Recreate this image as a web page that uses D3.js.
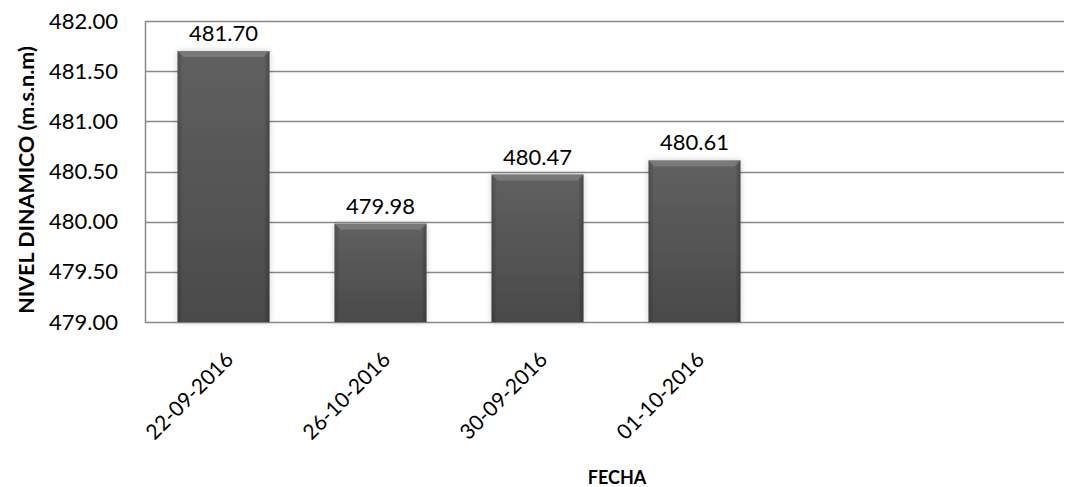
<!DOCTYPE html>
<html>
<head>
<meta charset="utf-8">
<script src="https://cdn.jsdelivr.net/npm/d3@7"></script>
<style>
  body { margin: 0; background: #fff; }
  text { font-family: Lato, "Open Sans", sans-serif; fill: #000; }
</style>
</head>
<body>
<div id="chart"></div>
<script>
// data
var fechas = ["22-09-2016", "26-10-2016", "30-09-2016", "01-10-2016"];
var niveles = [481.70, 479.98, 480.47, 480.61];
var yTicks = [479.0, 479.5, 480.0, 480.5, 481.0, 481.5, 482.0];

var svgWidth = 1076;
var svgHeight = 487;

var plot = { left: 145, right: 1064, top: 21, bottom: 322 };

var svg = d3.select("#chart")
  .append("svg")
  .attr("width", svgWidth)
  .attr("height", svgHeight);

var defs = svg.append("defs");

var grad = defs.append("linearGradient")
  .attr("id", "barGrad")
  .attr("x1", 0).attr("y1", 0).attr("x2", 0).attr("y2", 1);
grad.append("stop").attr("offset", "0%").attr("stop-color", "#606060");
grad.append("stop").attr("offset", "100%").attr("stop-color", "#4a4a4a");

var sideGrad = defs.append("linearGradient")
  .attr("id", "sideGrad")
  .attr("x1", 0).attr("y1", 0).attr("x2", 1).attr("y2", 0);
sideGrad.append("stop").attr("offset", "0%").attr("stop-color", "#000").attr("stop-opacity", 0.2);
sideGrad.append("stop").attr("offset", "6%").attr("stop-color", "#000").attr("stop-opacity", 0);
sideGrad.append("stop").attr("offset", "94%").attr("stop-color", "#000").attr("stop-opacity", 0);
sideGrad.append("stop").attr("offset", "100%").attr("stop-color", "#000").attr("stop-opacity", 0.25);

var shadow = defs.append("filter")
  .attr("id", "shadow")
  .attr("x", "-20%").attr("y", "-20%").attr("width", "140%").attr("height", "140%");
shadow.append("feGaussianBlur").attr("in", "SourceAlpha").attr("stdDeviation", 3);
shadow.append("feComponentTransfer").append("feFuncA").attr("type", "linear").attr("slope", 0.2);
var merge = shadow.append("feMerge");
merge.append("feMergeNode");
merge.append("feMergeNode").attr("in", "SourceGraphic");

// scales
var x = d3.scaleBand()
  .domain(fechas)
  .range([plot.left, plot.left + 157 * fechas.length])
  .paddingInner(0.414)
  .paddingOuter(0.207);

var y = d3.scaleLinear()
  .domain([479, 482])
  .range([plot.bottom, plot.top]);

// gridlines
svg.append("g")
  .selectAll("line")
  .data(yTicks)
  .enter()
  .append("line")
  .attr("x1", plot.left)
  .attr("x2", plot.right)
  .attr("y1", d => Math.round(y(d)) + 0.5)
  .attr("y2", d => Math.round(y(d)) + 0.5)
  .attr("stroke", "#898989")
  .attr("stroke-width", 1.5);

// left axis line
svg.append("line")
  .attr("x1", plot.left + 0.5).attr("x2", plot.left + 0.5)
  .attr("y1", plot.top).attr("y2", plot.bottom + 1)
  .attr("stroke", "#898989")
  .attr("stroke-width", 1.5);

// y axis labels
var yAxis = d3.axisLeft(y).tickValues(yTicks).tickSize(0).tickPadding(27)
  .tickFormat(d3.format(".2f"));
var yg = svg.append("g")
  .attr("transform", `translate(${plot.left}, 0)`)
  .call(yAxis);
yg.select(".domain").remove();
yg.selectAll("text")
  .attr("font-size", "22px")
  .attr("font-family", "Lato, sans-serif")
  .attr("fill", "#000");

// bars
var bars = svg.append("g").selectAll("g")
  .data(niveles)
  .enter()
  .append("g");

bars.append("rect")
  .attr("x", (d, i) => x(fechas[i]))
  .attr("y", d => y(d))
  .attr("width", x.bandwidth())
  .attr("height", d => y(479) - y(d))
  .attr("fill", "url(#barGrad)")
  .attr("filter", "url(#shadow)");

bars.append("rect")
  .attr("x", (d, i) => x(fechas[i]))
  .attr("y", d => y(d))
  .attr("width", x.bandwidth())
  .attr("height", d => y(479) - y(d))
  .attr("fill", "url(#sideGrad)");

// bevel highlight on top
bars.append("path")
  .attr("d", (d, i) => {
    var x0 = x(fechas[i]), x1 = x0 + x.bandwidth(), t = y(d);
    return `M${x0},${t} L${x1},${t} L${x1 - 6},${t + 6} L${x0 + 6},${t + 6} Z`;
  })
  .attr("fill", "#8a8a8a")
  .attr("opacity", 0.6);

// value labels
bars.append("text")
  .attr("x", (d, i) => x(fechas[i]) + x.bandwidth() / 2)
  .attr("y", d => y(d) - 10)
  .attr("text-anchor", "middle")
  .attr("font-size", "22px")
  .text(d => d.toFixed(2));

// x labels, rotated
svg.append("g").selectAll("text")
  .data(fechas)
  .enter()
  .append("text")
  .attr("transform", d => `translate(${x(d) + x.bandwidth() / 2 + 11}, 361) rotate(-45)`)
  .attr("text-anchor", "end")
  .attr("font-size", "21px")
  .text(d => d);

// axis titles
svg.append("text")
  .attr("transform", "translate(34, 180) rotate(-90)")
  .attr("text-anchor", "middle")
  .attr("font-size", "21.5px")
  .attr("font-weight", "bold")
  .text("NIVEL DINAMICO (m.s.n.m)");

svg.append("text")
  .attr("x", 617)
  .attr("y", 484)
  .attr("text-anchor", "middle")
  .attr("font-size", "18px")
  .attr("font-weight", "bold")
  .text("FECHA");
</script>
</body>
</html>
